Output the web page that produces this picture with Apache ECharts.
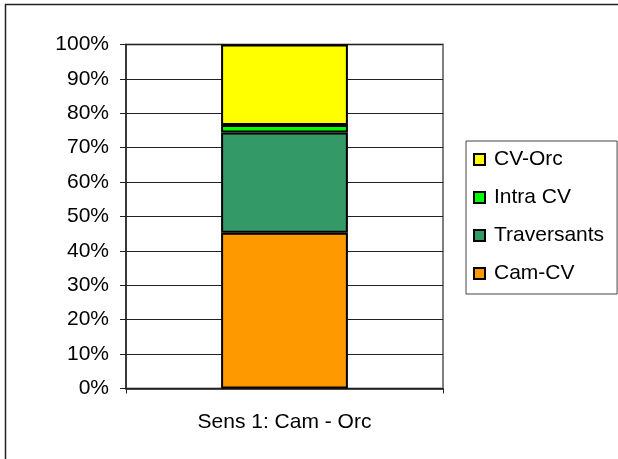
<!DOCTYPE html>
<html>
<head>
<meta charset="utf-8">
<title>Sens 1</title>
<style>
  * { margin: 0; padding: 0; }
  body { background: #fff; }
  #chart { width: 618px; height: 459px; }
</style>
</head>
<body>
<div id="chart"></div>
<script src="https://cdn.jsdelivr.net/npm/echarts@6/dist/echarts.min.js"></script>
<script>
// data (percent of total)
const categories = ['Sens 1: Cam - Orc'];
const seriesNames = ['Cam-CV', 'Traversants', 'Intra CV', 'CV-Orc'];
const camCV = [45.3];
const traversants = [29.1];
const intraCV = [2.2];
const cvOrc = [23.4];
const colors = ['#FF9900', '#339966', '#00FF00', '#FFFF00'];

const values = [camCV, traversants, intraCV, cvOrc];
const font = 'Liberation Sans, Arial, sans-serif';

const chart = echarts.init(document.getElementById('chart'), null, { renderer: 'canvas' });

chart.setOption({
    animation: false,
    textStyle: { fontFamily: font },
    graphic: [{
        type: 'rect',
        shape: { x: 5.5, y: 4.5, width: 900, height: 900 },
        style: { fill: 'none', stroke: '#222', lineWidth: 1.5 },
        silent: true
    }],
    grid: { left: 126, right: 175, top: 44.5, bottom: 70.5, show: true, borderColor: '#808080', borderWidth: 2 },
    legend: {
        orient: 'vertical',
        left: 466,
        top: 141,
        data: seriesNames.slice().reverse(),
        itemWidth: 11,
        itemHeight: 11,
        itemGap: 17,
        padding: [8, 13, 10, 7],
        borderColor: '#444',
        borderWidth: 1,
        borderRadius: 0,
        icon: 'rect',
        textStyle: { fontSize: 21, lineHeight: 21, color: '#000', fontFamily: font, padding: [0, 0, 0, 4] }
    },
    xAxis: {
        type: 'category',
        data: categories,
        axisLine: { lineStyle: { color: '#222', width: 1.5 } },
        axisTick: { show: true, length: 5, lineStyle: { color: '#222' } },
        axisLabel: { fontSize: 21, color: '#000', margin: 23, fontFamily: font }
    },
    yAxis: {
        type: 'value',
        min: 0,
        max: 100,
        interval: 10,
        axisLine: { show: true, lineStyle: { color: '#222', width: 1.5 } },
        axisTick: { show: true, length: 6, lineStyle: { color: '#222' } },
        axisLabel: { formatter: '{value}%', fontSize: 21, color: '#000', margin: 17, fontFamily: font },
        splitLine: { lineStyle: { color: '#222', width: 1 } }
    },
    series: seriesNames.map((name, i) => ({
        name: name,
        type: 'bar',
        stack: 'total',
        barWidth: '40%',
        data: values[i],
        itemStyle: { color: colors[i], borderColor: '#000', borderWidth: 2 }
    }))
});
</script>
</body>
</html>
